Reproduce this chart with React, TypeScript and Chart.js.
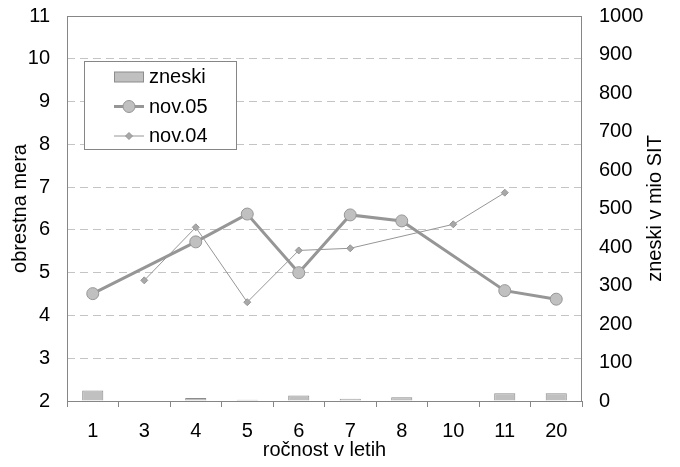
import React, { useEffect, useRef } from 'react';
import { Chart, registerables } from 'chart.js';

Chart.register(...registerables);

const categories = ['1', '3', '4', '5', '6', '7', '8', '10', '11', '20'];
const zneski = [27, 0, 8, 3, 14, 6, 10, 0, 20, 20];
const nov05 = [4.51, null, 5.72, 6.37, 5.0, 6.35, 6.21, null, 4.58, 4.38];
const nov04 = [null, 4.82, 6.06, 4.31, 5.52, 5.57, null, 6.13, 6.87, null];

const leftRange = [2, 11];
const rightRange = [0, 1000];
const rightStep = 100;

const xTitle = 'ročnost v letih';
const leftTitle = 'obrestna mera';
const rightTitle = 'zneski v mio SIT';

const FONT = '"Liberation Sans", Arial, sans-serif';
const FS = 20;
const GRID = '#c4c4c4';
const AXIS = '#868686';
const LINE = '#969696';
const FILL = '#c0c0c0';

const framePlugin = {
  id: 'frame',
  beforeDatasetsDraw(chart: any) {
    const { ctx, chartArea } = chart;
    ctx.save();
    ctx.strokeStyle = AXIS;
    ctx.lineWidth = 1;
    const l = Math.round(chartArea.left) + 0.5;
    const t = Math.round(chartArea.top) + 0.5;
    const r = Math.round(chartArea.right) - 0.5;
    const b = Math.round(chartArea.bottom) + 0.5;
    ctx.strokeRect(l, t, r - l, b - t);
    ctx.restore();
  },
};

const extrasPlugin = {
  id: 'extras',
  afterDraw(chart: any) {
    const { ctx, chartArea } = chart;
    // right axis title (reads bottom-to-top)
    ctx.save();
    ctx.translate(chart.width - 25, (chartArea.top + chartArea.bottom) / 2);
    ctx.rotate(-Math.PI / 2);
    ctx.font = `${FS}px ${FONT}`;
    ctx.fillStyle = '#000';
    ctx.textAlign = 'center';
    ctx.textBaseline = 'middle';
    ctx.fillText(rightTitle, 0, 0);
    ctx.restore();

    // legend box inside plot
    const bx = 84.5, by = 61.5, bw = 152, bh = 88;
    ctx.save();
    ctx.fillStyle = '#fff';
    ctx.fillRect(bx, by, bw, bh);
    ctx.strokeStyle = AXIS;
    ctx.lineWidth = 1;
    ctx.strokeRect(bx, by, bw, bh);
    const ds = chart.data.datasets;
    const rows = [77, 106.5, 136];
    const sx = 114, ex = 144, tx = 149;
    ctx.font = `${FS}px ${FONT}`;
    ctx.textAlign = 'left';
    ctx.textBaseline = 'middle';
    ds.forEach((d: any, i: number) => {
      const y = rows[i];
      if (d.type === 'bar') {
        ctx.fillStyle = d.borderColor;
        ctx.fillRect(sx, y - 5.5, ex - sx, 11);
        ctx.fillStyle = d.backgroundColor;
        ctx.fillRect(sx + 1, y - 4.5, ex - sx - 2, 9);
      } else {
        ctx.strokeStyle = d.borderColor;
        ctx.lineWidth = d.borderWidth;
        ctx.beginPath();
        ctx.moveTo(sx, y);
        ctx.lineTo(ex, y);
        ctx.stroke();
        const cx = (sx + ex) / 2;
        ctx.fillStyle = d.pointBackgroundColor;
        ctx.strokeStyle = d.pointBorderColor;
        ctx.lineWidth = 1;
        ctx.beginPath();
        if (d.pointStyle === 'circle') {
          ctx.arc(cx, y, d.pointRadius, 0, Math.PI * 2);
        } else {
          const rr = d.pointRadius;
          ctx.moveTo(cx, y - rr);
          ctx.lineTo(cx + rr, y);
          ctx.lineTo(cx, y + rr);
          ctx.lineTo(cx - rr, y);
          ctx.closePath();
        }
        ctx.fill();
        ctx.stroke();
      }
      ctx.fillStyle = '#000';
      ctx.fillText(d.label, tx, y + 0.5);
    });
    ctx.restore();
  },
};

export default function App() {
  const ref = useRef<HTMLCanvasElement | null>(null);

  useEffect(() => {
    if (!ref.current) return;
    const chart = new Chart(ref.current, {
      type: 'bar',
      data: {
        labels: categories,
        datasets: [
          {
            type: 'bar',
            label: 'zneski',
            data: zneski,
            yAxisID: 'y1',
            backgroundColor: FILL,
            borderColor: '#8c8c8c',
            borderWidth: 1,
            barPercentage: 0.41,
            categoryPercentage: 1,
            order: 3,
          },
          {
            type: 'line',
            label: 'nov.05',
            data: nov05,
            yAxisID: 'y',
            borderColor: LINE,
            borderWidth: 3,
            pointStyle: 'circle',
            pointRadius: 6,
            pointBackgroundColor: FILL,
            pointBorderColor: LINE,
            pointBorderWidth: 1,
            spanGaps: true,
            tension: 0,
            order: 1,
          },
          {
            type: 'line',
            label: 'nov.04',
            data: nov04,
            yAxisID: 'y',
            borderColor: LINE,
            borderWidth: 1,
            pointStyle: 'rectRot',
            pointRadius: 3.5,
            pointBackgroundColor: '#a8a8a8',
            pointBorderColor: LINE,
            pointBorderWidth: 1,
            spanGaps: true,
            tension: 0,
            order: 2,
          },
        ] as any,
      },
      options: {
        animation: false,
        responsive: true,
        maintainAspectRatio: false,
        layout: { padding: { top: 16, left: 0, right: 0, bottom: 0 } },
        plugins: {
          legend: { display: false },
          tooltip: { enabled: false },
        },
        scales: {
          x: {
            type: 'category',
            offset: true,
            grid: {
              offset: true,
              drawOnChartArea: false,
              drawTicks: true,
              tickLength: 6,
              color: AXIS,
            },
            border: { display: false },
            ticks: {
              color: '#000',
              font: { family: FONT, size: FS },
              padding: 12,
              maxRotation: 0,
              autoSkip: false,
            },
            title: {
              display: true,
              text: xTitle,
              color: '#000',
              font: { family: FONT, size: FS },
              padding: { top: 0, bottom: 5 },
            },
            afterFit: (s: any) => {
              s.height = 66;
              s.paddingLeft = 0;
              s.paddingRight = 0;
            },
          },
          y: {
            type: 'linear',
            position: 'left',
            min: leftRange[0],
            max: leftRange[1],
            grid: {
              color: GRID,
              drawTicks: false,
              lineWidth: 1,
            },
            border: { display: false, dash: [8, 5] },
            ticks: {
              stepSize: 1,
              color: '#000',
              font: { family: FONT, size: FS },
              padding: 17,
            },
            title: {
              display: true,
              text: leftTitle,
              color: '#000',
              font: { family: FONT, size: FS },
              padding: { top: 8, bottom: 0 },
            },
            afterFit: (s: any) => {
              s.width = 67;
              s.paddingTop = 0;
              s.paddingBottom = 0;
            },
          },
          y1: {
            type: 'linear',
            position: 'right',
            min: rightRange[0],
            max: rightRange[1],
            grid: { drawOnChartArea: false, drawTicks: false },
            border: { display: false },
            ticks: {
              stepSize: rightStep,
              color: '#000',
              font: { family: FONT, size: FS },
              padding: 17,
              callback: (v: any) => String(v),
            },
            afterFit: (s: any) => {
              s.width = 98;
              s.paddingTop = 0;
              s.paddingBottom = 0;
            },
          },
        },
      } as any,
      plugins: [framePlugin, extrasPlugin],
    });
    return () => chart.destroy();
  }, []);

  return (
    <div style={{ position: 'absolute', left: 0, top: 0, width: 680, height: 467 }}>
      <canvas ref={ref} />
    </div>
  );
}
